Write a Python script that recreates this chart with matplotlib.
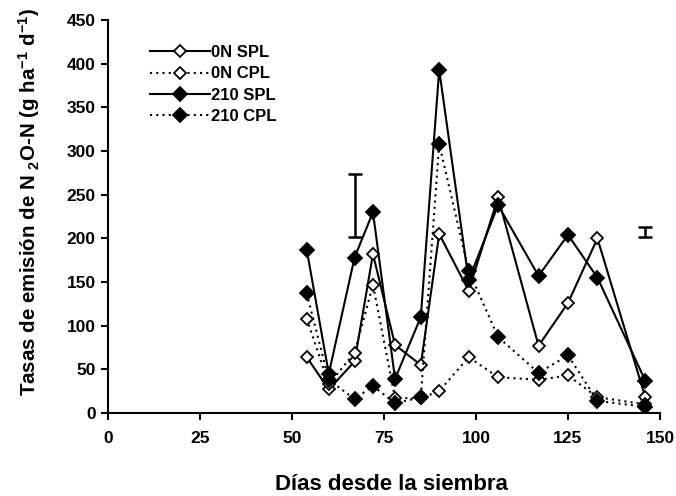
import matplotlib
matplotlib.use("Agg")
import matplotlib.pyplot as plt

plt.rcParams['font.family'] = ['Liberation Sans', 'DejaVu Sans']
plt.rcParams['font.weight'] = 'bold'
plt.rcParams['mathtext.fontset'] = 'custom'
plt.rcParams['mathtext.bf'] = 'Liberation Sans:bold'
plt.rcParams['mathtext.rm'] = 'Liberation Sans:bold'
plt.rcParams['mathtext.default'] = 'bf'

days = [54, 60, 67, 72, 78, 85, 90, 98, 106, 117, 125, 133, 146]
on_spl = [64, 27, 59, 182, 78, 55, 205, 140, 247, 77, 126, 200, 18]
on_cpl = [108, 33, 69, 147, 17, 17, 25, 64, 41, 38, 43, 18, 10]
n210_spl = [187, 45, 178, 230, 39, 110, 393, 152, 238, 157, 204, 155, 37]
n210_cpl = [137, 38, 16, 31, 11, 18, 308, 163, 87, 46, 66, 14, 7]

series_labels = ['0N SPL', '0N CPL', '210 SPL', '210 CPL']

err_x = [67, 146]
err_center = [237.5, 207]
err_half = [36.5, 6]

x_ticks = [0, 25, 50, 75, 100, 125, 150]
y_ticks = [0, 50, 100, 150, 200, 250, 300, 350, 400, 450]

fig = plt.figure(figsize=(6.76, 4.96), dpi=100)
ax = fig.add_axes([108/676, 1 - 413/496, (660-108)/676, (413-20)/496])

dot = (0, (1, 2))
styles = [
    dict(ls='-', mfc='white'),
    dict(ls=dot, mfc='white'),
    dict(ls='-', mfc='black'),
    dict(ls=dot, mfc='black'),
]
data = [on_spl, on_cpl, n210_spl, n210_cpl]
order = [1, 3, 0, 2]
handles = [None]*4
for i in order:
    st = styles[i]
    h, = ax.plot(days, data[i], color='black', lw=1.5, linestyle=st['ls'],
                 marker='D', ms=6.5 if st['mfc'] == 'white' else 7,
                 mfc=st['mfc'], mec='black', mew=1.3, zorder=3 + i,
                 label=series_labels[i])
    handles[i] = h

ax.errorbar(err_x, err_center, yerr=err_half, fmt='none', ecolor='black',
            elinewidth=1.8, capsize=5, capthick=1.8, zorder=2)

ax.set_xlim(0, 150)
ax.set_ylim(0, 450)
ax.set_xticks(x_ticks)
ax.set_xticklabels([str(v) for v in x_ticks], fontsize=12.5, fontweight='bold')
ax.set_yticks(y_ticks)
ax.set_yticklabels([str(v) for v in y_ticks], fontsize=12.5, fontweight='bold')
for s in ['top', 'right']:
    ax.spines[s].set_visible(False)
for s in ['left', 'bottom']:
    ax.spines[s].set_linewidth(1.5)
ax.tick_params(axis='x', direction='out', length=5, width=1.5, pad=8)
ax.tick_params(axis='y', direction='out', length=5, width=1.5, pad=4)

ax.set_xlabel('Días desde la siembra', fontsize=16, fontweight='bold')
ax.set_ylabel('Tasas de emisión de N $_2$O-N (g ha$^{-1}$ d$^{-1}$)',
              fontsize=14.8, fontweight='bold')
ax.xaxis.set_label_coords((391 - 108) / 552, -(485 - 413) / 393)
ax.xaxis.label.set_va('center')
ax.yaxis.set_label_coords(-(108 - 29) / 552, (413 - 202) / 393)
ax.yaxis.label.set_va('center')

leg = ax.legend(handles=handles, labels=series_labels, loc='upper left',
                bbox_to_anchor=(0.064, 0.953), frameon=False,
                prop={'size': 12, 'weight': 'bold'},
                handlelength=3.6, handletextpad=0.08, labelspacing=0.38,
                borderaxespad=0)

fig.savefig('out.png', dpi=100)
